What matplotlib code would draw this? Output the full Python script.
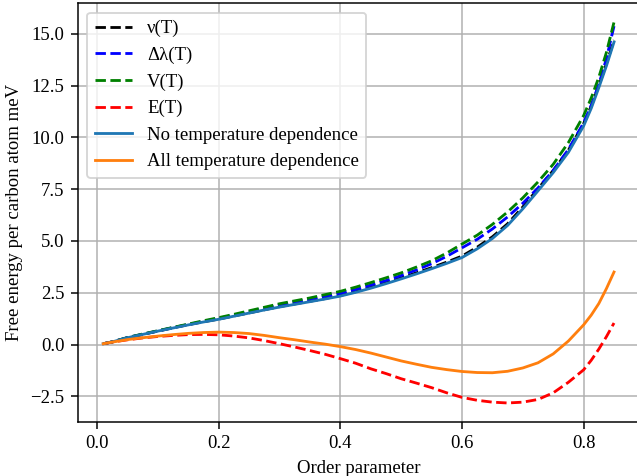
import matplotlib
matplotlib.use("Agg")
import matplotlib.pyplot as plt

# 폰트 설정 (Times 계열)
plt.rcParams["font.family"] = ["Liberation Serif", "DejaVu Serif"]

# 질서 변수 (order parameter)
order = [0.01, 0.025, 0.05, 0.075, 0.10, 0.125, 0.15, 0.175, 0.20, 0.225,
         0.25, 0.275, 0.30, 0.325, 0.35, 0.375, 0.40, 0.425, 0.45, 0.475,
         0.50, 0.525, 0.55, 0.575, 0.60, 0.625, 0.65, 0.675, 0.70, 0.725,
         0.75, 0.775, 0.80, 0.8125, 0.825, 0.8375, 0.85]

# 자유 에너지 (meV / 탄소 원자)
nu_T = [0.04, 0.13, 0.33, 0.49, 0.65, 0.81, 0.96, 1.10, 1.23, 1.38,
        1.53, 1.68, 1.83, 1.96, 2.09, 2.22, 2.37, 2.55, 2.76, 2.98,
        3.22, 3.46, 3.71, 3.98, 4.27, 4.70, 5.20, 5.83, 6.64, 7.52,
        8.40, 9.38, 10.66, 11.50, 12.50, 13.55, 14.70]
dlambda_T = [0.04, 0.13, 0.34, 0.50, 0.66, 0.82, 0.97, 1.12, 1.27, 1.42,
             1.58, 1.75, 1.91, 2.05, 2.19, 2.33, 2.47, 2.66, 2.87, 3.09,
             3.33, 3.60, 3.90, 4.26, 4.67, 5.08, 5.58, 6.16, 6.82, 7.56,
             8.40, 9.42, 10.70, 11.55, 12.55, 13.80, 15.37]
V_T = [0.04, 0.13, 0.34, 0.51, 0.67, 0.83, 0.99, 1.15, 1.30, 1.46,
       1.63, 1.80, 1.97, 2.11, 2.25, 2.41, 2.57, 2.77, 2.99, 3.22,
       3.46, 3.74, 4.04, 4.42, 4.85, 5.28, 5.80, 6.40, 7.08, 7.85,
       8.70, 9.75, 11.05, 11.90, 12.90, 14.10, 15.56]
E_T = [0.04, 0.12, 0.23, 0.32, 0.39, 0.44, 0.48, 0.49, 0.47, 0.41,
       0.32, 0.19, 0.04, -0.12, -0.29, -0.47, -0.68, -0.90, -1.17, -1.40,
       -1.65, -1.86, -2.08, -2.33, -2.55, -2.69, -2.78, -2.82, -2.78, -2.65,
       -2.33, -1.82, -1.22, -0.76, -0.22, 0.38, 1.04]
no_temp = [0.04, 0.13, 0.33, 0.49, 0.65, 0.80, 0.95, 1.09, 1.22, 1.37,
           1.52, 1.67, 1.81, 1.94, 2.07, 2.20, 2.34, 2.52, 2.72, 2.94,
           3.17, 3.41, 3.66, 3.92, 4.20, 4.62, 5.12, 5.75, 6.55, 7.42,
           8.30, 9.28, 10.55, 11.40, 12.40, 13.45, 14.60]
all_temp = [0.04, 0.12, 0.24, 0.33, 0.41, 0.48, 0.54, 0.58, 0.60, 0.58,
            0.53, 0.44, 0.33, 0.23, 0.12, 0.02, -0.10, -0.24, -0.41, -0.60,
            -0.79, -0.95, -1.10, -1.21, -1.30, -1.35, -1.36, -1.29, -1.13, -0.88,
            -0.45, 0.17, 0.95, 1.42, 1.98, 2.70, 3.50]

fig = plt.figure(figsize=(637 / 135, 476 / 135), dpi=135)
ax = fig.add_axes([0.122, 0.1134, 0.882, 0.880])

ax.plot(order, nu_T, "k--", label="ν(T)")
ax.plot(order, dlambda_T, "b--", label="Δλ(T)")
ax.plot(order, V_T, "g--", label="V(T)")
ax.plot(order, E_T, "r--", label="E(T)")
ax.plot(order, no_temp, label="No temperature dependence")
ax.plot(order, all_temp, label="All temperature dependence")

ax.set_xlabel("Order parameter")
ax.set_ylabel("Free energy per carbon atom meV")
ax.grid(True)
ax.legend(loc="upper left")

fig.savefig("out.png", dpi=135)
